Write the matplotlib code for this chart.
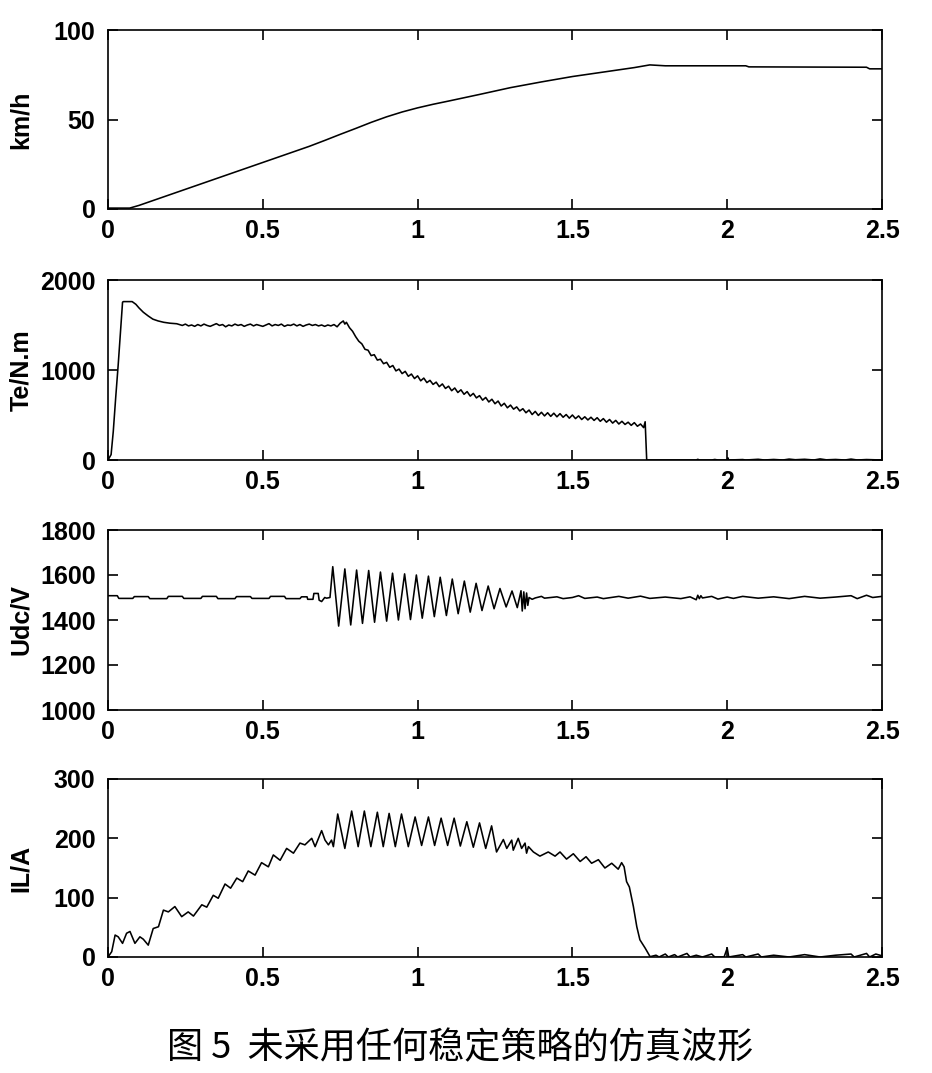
import numpy as np
import matplotlib
matplotlib.use("Agg")
import matplotlib.pyplot as plt

# ---- speed (km/h) ----
v_t = [0, 0.07, 0.1, 0.2, 0.3, 0.4, 0.5, 0.6, 0.65, 0.7, 0.75, 0.8, 0.85, 0.9, 0.95, 1.0,
       1.05, 1.1, 1.2, 1.3, 1.4, 1.5, 1.6, 1.7, 1.75, 1.8, 2.06, 2.07, 2.45, 2.46, 2.5]
v_val = [0.5, 0.5, 2, 8, 14, 20, 26, 32, 35, 38.3, 41.7, 45, 48.4, 51.5, 54.2, 56.5,
         58.5, 60.3, 64, 67.8, 71, 74, 76.5, 79, 80.5, 80, 80, 79.4, 79.2, 78.3, 78.3]

# ---- torque (N.m) ----
te_t = [0, 0.01, 0.017, 0.025, 0.033, 0.04, 0.047, 0.05, 0.078, 0.09, 0.10, 0.114, 0.13,
        0.145, 0.162, 0.18, 0.2, 0.222,
        0.23, 0.24, 0.25, 0.26, 0.27, 0.28, 0.29, 0.30, 0.31, 0.32, 0.33, 0.34, 0.35,
        0.36, 0.37, 0.38, 0.39, 0.40, 0.41, 0.42, 0.43, 0.44, 0.45, 0.46, 0.47, 0.48,
        0.49, 0.50, 0.51, 0.52, 0.53, 0.54, 0.55, 0.56, 0.57, 0.58, 0.59, 0.60, 0.61,
        0.62, 0.63, 0.64, 0.65, 0.66, 0.67, 0.68, 0.69, 0.70, 0.71, 0.72, 0.73, 0.74,
        0.75, 0.76, 0.765, 0.77, 0.78, 0.79, 0.80, 0.81, 0.82, 0.83, 0.84, 0.85, 0.86,
        0.87, 0.88, 0.89, 0.90, 0.91, 0.92, 0.93, 0.94, 0.95, 0.96, 0.97, 0.98, 0.99,
        1.00, 1.01, 1.02, 1.03, 1.04, 1.05, 1.06, 1.07, 1.08, 1.09, 1.10, 1.11, 1.12,
        1.13, 1.14, 1.15, 1.16, 1.17, 1.18, 1.19, 1.20, 1.21, 1.22, 1.23, 1.24, 1.25,
        1.26, 1.27, 1.28, 1.29, 1.30, 1.31, 1.32, 1.33, 1.34, 1.35, 1.36, 1.37, 1.38,
        1.39, 1.40, 1.41, 1.42, 1.43, 1.44, 1.45, 1.46, 1.47, 1.48, 1.49, 1.50, 1.51,
        1.52, 1.53, 1.54, 1.55, 1.56, 1.57, 1.58, 1.59, 1.60, 1.61, 1.62, 1.63, 1.64,
        1.65, 1.66, 1.67, 1.68, 1.69, 1.70, 1.71, 1.72, 1.73, 1.735, 1.74,
        1.9, 1.905, 1.91, 1.95, 1.96, 1.97, 2.0, 2.002, 2.005, 2.05, 2.06, 2.1, 2.12,
        2.15, 2.18, 2.2, 2.22, 2.25, 2.28, 2.3, 2.32, 2.35, 2.38, 2.4, 2.42, 2.45, 2.5]
te_val = [0, 60, 316, 700, 1061, 1400, 1754, 1760, 1760, 1730, 1690, 1642, 1600,
          1565, 1545, 1530, 1520, 1514,
          1505, 1495, 1510, 1490, 1500, 1485, 1505, 1490, 1510, 1495, 1485, 1500, 1515,
          1495, 1505, 1480, 1500, 1490, 1510, 1495, 1505, 1485, 1500, 1510, 1490, 1505,
          1495, 1485, 1500, 1515, 1490, 1505, 1495, 1510, 1485, 1500, 1495, 1510, 1490,
          1505, 1485, 1500, 1510, 1495, 1505, 1490, 1500, 1485, 1500, 1490, 1505, 1480,
          1520, 1545, 1510, 1530, 1470, 1430, 1370, 1320, 1290, 1230, 1220, 1160, 1170,
          1110, 1120, 1070, 1085, 1030, 1050, 990, 1010, 960, 985, 930, 955, 905,
          935, 880, 910, 860, 885, 840, 865, 815, 845, 795, 820, 770, 800,
          750, 780, 730, 760, 710, 740, 690, 715, 665, 695, 645, 675, 625,
          655, 600, 630, 580, 610, 565, 590, 545, 570, 525, 555, 505, 540,
          495, 530, 490, 525, 485, 520, 480, 515, 475, 505, 465, 500, 460,
          490, 450, 480, 445, 475, 440, 470, 430, 460, 420, 450, 410, 440,
          400, 430, 395, 420, 385, 415, 375, 400, 360, 425, 0,
          0, 8, 0, 0, 6, 0, 0, 25, 0, 5, 0, 8, 0,
          6, 0, 10, 3, 8, 0, 12, 2, 6, 0, 10, 0, 5, 0]

# ---- DC link voltage (V) ----
udc_t = [0, 0.03, 0.035, 0.08, 0.085, 0.13, 0.135, 0.19, 0.195, 0.24, 0.245, 0.3, 0.305,
         0.35, 0.355, 0.41, 0.415, 0.46, 0.465, 0.52, 0.525, 0.57, 0.575, 0.62, 0.625,
         0.643, 0.645, 0.662, 0.665, 0.679, 0.682, 0.69, 0.70, 0.706, 0.717,
         0.726, 0.745, 0.765, 0.784, 0.803, 0.822, 0.842, 0.861, 0.880, 0.900, 0.919,
         0.938, 0.958, 0.977, 0.996, 1.015, 1.035, 1.054, 1.073, 1.093, 1.112, 1.131,
         1.151, 1.170, 1.189, 1.208, 1.228, 1.247, 1.266, 1.286, 1.305, 1.322, 1.334,
         1.338, 1.343, 1.347, 1.352, 1.356, 1.36,
         1.37, 1.38, 1.40, 1.41, 1.45, 1.47, 1.5, 1.52, 1.54, 1.58, 1.6, 1.65, 1.68,
         1.72, 1.75, 1.8, 1.85, 1.88, 1.9, 1.905, 1.91, 1.915, 1.92, 1.95, 1.97, 2.0,
         2.02, 2.05, 2.1, 2.15, 2.2, 2.25, 2.3, 2.35, 2.4, 2.42, 2.45, 2.47, 2.5]
udc_val = [1508, 1508, 1496, 1496, 1504, 1504, 1495, 1495, 1505, 1505, 1496, 1496, 1505,
           1505, 1495, 1495, 1504, 1504, 1496, 1496, 1505, 1505, 1495, 1495, 1503,
           1503, 1492, 1492, 1518, 1518, 1488, 1482, 1500, 1497, 1500,
           1637, 1373, 1627, 1378, 1622, 1385, 1620, 1390, 1613, 1395, 1608,
           1400, 1605, 1402, 1600, 1408, 1595, 1415, 1590, 1420, 1582, 1428,
           1573, 1435, 1563, 1442, 1551, 1450, 1540, 1458, 1529, 1455, 1530,
           1440, 1525, 1450, 1520, 1465, 1500,
           1492, 1498, 1505, 1497, 1503, 1495, 1500, 1508, 1496, 1502, 1495, 1505, 1497,
           1506, 1496, 1502, 1495, 1503, 1490, 1510, 1495, 1508, 1498, 1505, 1493, 1502,
           1496, 1505, 1497, 1503, 1495, 1505, 1497, 1502, 1508, 1495, 1510, 1500, 1505]

# ---- line current (A) ----
il_t = [0, 0.012, 0.023, 0.033, 0.047, 0.060, 0.071, 0.087, 0.103, 0.114, 0.130, 0.146,
        0.163, 0.179, 0.195, 0.216, 0.238, 0.259, 0.276, 0.303, 0.319, 0.34, 0.356,
        0.378, 0.396, 0.416, 0.435, 0.453, 0.475, 0.496, 0.518, 0.534, 0.556, 0.577,
        0.599, 0.62, 0.636, 0.658, 0.669, 0.69, 0.701, 0.712, 0.722, 0.728,
        0.742, 0.765, 0.787, 0.808, 0.828, 0.849, 0.870, 0.889, 0.908, 0.928, 0.948,
        0.970, 0.992, 1.013, 1.035, 1.055, 1.076, 1.097, 1.118, 1.138, 1.159, 1.180,
        1.200, 1.220, 1.239, 1.255, 1.277, 1.288, 1.304, 1.309, 1.325, 1.336, 1.347,
        1.352, 1.358, 1.374, 1.395, 1.422, 1.444, 1.46, 1.481, 1.503, 1.525, 1.544,
        1.562, 1.584, 1.605, 1.627, 1.648, 1.659, 1.667, 1.675, 1.684, 1.697, 1.708,
        1.718, 1.735, 1.751,
        1.77, 1.78, 1.80, 1.81, 1.83, 1.84, 1.87, 1.88, 1.9, 1.92, 1.95, 1.96, 1.99,
        2.0, 2.005, 2.05, 2.06, 2.1, 2.11, 2.15, 2.2, 2.25, 2.3, 2.35, 2.4, 2.41, 2.45,
        2.46, 2.48, 2.5]
il_val = [0, 9, 37, 34, 23, 40, 43, 23, 34, 30, 20, 48,
          51, 79, 76, 85, 68, 76, 69, 88, 84, 104, 99,
          123, 116, 133, 127, 145, 138, 159, 152, 172, 163, 183,
          175, 192, 189, 200, 186, 213, 197, 189, 197, 186,
          241, 183, 246, 186, 246, 186, 244, 186, 242, 186, 241,
          186, 236, 188, 236, 188, 234, 188, 234, 187, 228, 185,
          226, 183, 221, 177, 198, 183, 197, 180, 200, 183, 192,
          175, 186, 177, 170, 177, 170, 177, 165, 174, 161, 169,
          158, 164, 150, 158, 148, 159, 152, 127, 118, 85, 51,
          29, 15, 0.5,
          3, 0, 5, 0, 4, 0, 6, 0, 3, 0, 5, 0, 0,
          15, 0, 4, 0, 5, 0, 3, 0, 4, 0, 3, 5, 0, 6,
          0, 5, 2]

x_ticks = [0, 0.5, 1, 1.5, 2, 2.5]
x_ticklabels = ["0", "0.5", "1", "1.5", "2", "2.5"]

panels = [
    (v_t, v_val, "km/h", (0, 100), [0, 50, 100]),
    (te_t, te_val, "Te/N.m", (0, 2000), [0, 1000, 2000]),
    (udc_t, udc_val, "Udc/V", (1000, 1800), [1000, 1200, 1400, 1600, 1800]),
    (il_t, il_val, "IL/A", (0, 300), [0, 100, 200, 300]),
]

# axes boxes in pixels (top, bottom) of the 932x1073 picture
boxes = [(30, 209), (280, 460), (530, 710), (779, 957)]

W, H = 932, 1073
plt.rcParams["font.family"] = ["Liberation Sans", "DejaVu Sans"]
plt.rcParams["font.weight"] = "bold"
fig = plt.figure(figsize=(W / 100, H / 100), dpi=100)

for (t, y, lab, ylim, yt), (top, bot) in zip(panels, boxes):
    ax = fig.add_axes([108 / W, 1 - bot / H, (882 - 108) / W, (bot - top) / H])
    ax.plot(t, y, color="black", lw=1.15)
    ax.set_xlim(0, 2.5)
    ax.set_ylim(*ylim)
    ax.set_xticks(x_ticks)
    ax.set_xticklabels(x_ticklabels)
    ax.set_yticks(yt)
    ax.tick_params(direction="in", top=True, right=True, length=7, width=1.2,
                   labelsize=18)
    ax.tick_params(axis="x", pad=7)
    ax.tick_params(axis="y", pad=9)
    for s in ax.spines.values():
        s.set_linewidth(1.2)
    ax.set_ylabel(lab, fontsize=18, fontweight="bold")
    ax.yaxis.set_label_coords(-0.097, 0.5)

fig.text(460 / W, 1 - 1048 / H, "图 5  未采用任何稳定策略的仿真波形",
         ha="center", va="center", fontsize=26, fontweight="normal",
         family=["Noto Sans CJK SC", "DejaVu Sans"])

fig.savefig("out.png", dpi=100)
